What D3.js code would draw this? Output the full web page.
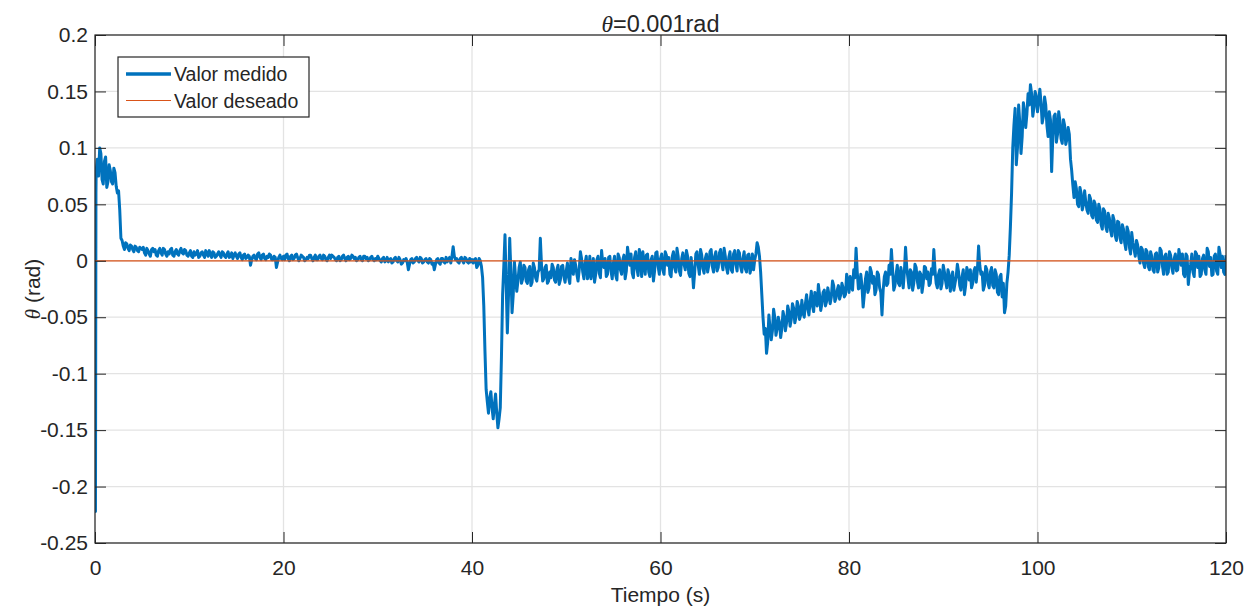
<!DOCTYPE html>
<html>
<head>
<meta charset="utf-8">
<script src="https://cdnjs.cloudflare.com/ajax/libs/d3/7.8.5/d3.min.js"></script>
<style>
  body { margin: 0; background: #fff; }
  svg text { font-family: "Liberation Sans", Arial, sans-serif; fill: #262626; }
</style>
</head>
<body>
<svg id="chart" width="1255" height="615"></svg>
<script>
// first instants of the record (fast transient at t = 0)
var startTimes = [0, 0.05, 0.1];
var startValues = [0, -0.222, 0.06];

// theta measured (rad), one sample every 0.25 s from t = 0.25 to t = 120
var dt = 0.25;
var measured = [
  .09,.1,.072,.088,.065,.085,.07,.082,.066,.062,.02,.013,.016,.011,.014,.01,.013,.009,.012,.01,
  .007,.011,.006,.01,.008,.005,.009,.007,.011,.006,.008,.01,.005,.008,.006,.009,.007,.01,.005,.007,
  .004,.008,.006,.003,.007,.005,.009,.004,.006,.008,.003,.006,.005,.008,.004,.006,.003,.007,.005,.004,
  .006,.003,.005,.002,.005,-.004,.004,.002,.006,.003,.005,.002,.004,.006,.001,.004,-.006,.003,.002,.004,
  .005,.002,.004,.001,.005,.003,.002,.004,0,.003,.005,.002,.003,.001,.004,.002,.005,.001,.003,.002,
  .004,.001,.003,0,.004,.002,.003,.001,.005,.002,0,.003,.001,.004,.002,0,.003,.001,.002,.004,
  0,.002,-.001,.003,.001,-.002,.002,0,.003,-.003,.001,.002,-.008,.001,-.002,.002,0,.003,-.002,.001,
  -.001,.002,-.003,-.008,.001,-.002,.002,-.001,.003,.001,-.002,.0125,.001,-.001,.002,0,.003,-.001,.002,.001,
  .001,-.006,.002,-.005,-.04,-.114,-.135,-.116,-.14,-.118,-.148,-.13,-.03,.023,-.064,.02,-.046,-.001,-.027,-.006,
  -.02,-.004,-.018,-.008,-.022,-.002,-.015,-.01,.02,-.018,-.006,-.02,-.01,-.003,-.017,-.008,-.021,-.005,-.014,-.009,
  -.015,.002,-.012,-.004,-.018,.008,-.01,-.002,-.016,.004,-.008,-.019,.001,-.011,.009,-.006,-.014,.003,-.009,-.002,
  -.013,.006,-.008,.001,-.016,.012,-.004,-.011,.003,-.007,.01,-.014,-.002,.005,-.01,.001,-.018,.007,-.005,.002,
  -.008,.008,-.004,-.012,.004,-.006,.011,-.009,.002,-.003,.009,-.011,.003,-.024,.006,-.004,.01,-.007,.002,-.01,
  .008,-.005,.004,-.009,.007,-.002,.011,-.006,.003,-.008,.006,-.003,.009,-.005,.002,-.007,.005,-.011,.006,.001,
  .016,.004,-.03,-.065,-.082,-.048,-.07,-.043,-.066,-.05,-.068,-.045,-.062,-.04,-.058,-.038,-.055,-.036,-.052,-.035,
  -.05,-.03,-.048,-.027,-.045,-.033,-.021,-.044,-.028,-.04,-.024,-.038,-.018,-.036,-.026,-.034,-.02,-.032,-.012,-.028,
  -.022,-.008,.011,-.025,-.012,-.041,-.016,-.028,-.006,-.02,-.03,-.01,-.024,-.048,-.014,-.022,-.004,.01,-.026,-.012,
  -.02,-.006,-.024,.012,-.015,-.008,-.026,-.003,-.018,-.01,-.028,-.005,-.016,-.022,-.007,.01,-.02,-.012,-.025,-.004,
  -.018,-.008,-.027,-.01,-.02,-.003,-.022,-.014,-.03,-.006,-.017,-.024,-.009,-.019,.013,-.012,-.026,-.005,-.02,-.01,
  -.022,-.008,-.028,-.014,-.032,-.046,-.02,.005,.06,.12,.085,.138,.095,.14,.118,.148,.156,.128,.15,.132,
  .152,.122,.145,.12,.132,.079,.128,.105,.132,.108,.125,.103,.118,.09,.067,.07,.05,.065,.045,.062,
  .045,.058,.04,.053,.036,.05,.032,.046,.03,.042,.027,.04,.022,.035,.02,.032,.016,.03,.012,.025,
  .01,.018,.004,.012,-.002,.01,-.005,.008,-.008,.006,-.01,.011,-.004,.004,-.012,.008,-.006,.002,-.009,.01,
  -.004,-.012,.006,-.021,-.003,-.01,.008,-.006,-.014,.002,-.008,.011,-.005,-.013,.004,-.009,.012,-.006,-.01,.005
];

// samples read half way between the ones above (t = 0.125, 0.375, ... 119.875)
var measuredMid = [
  .08,.075,.095,.068,.092,.07,.08,.068,.078,.06,.045,.018,.01,.015,.009,.013,.008,.012,.008,.011,
  .012,.005,.009,.004,.011,.01,.004,.011,.005,.01,.004,.006,.011,.004,.01,.005,.011,.006,.009,.004,
  .009,.003,.005,.009,.004,.008,.003,.007,.009,.003,.007,.004,.008,.003,.007,.003,.008,.004,.002,.007,
  .002,.007,.001,.006,.003,.004,.001,.005,.001,.007,.001,.006,.001,.003,.005,.001,.003,-.001,.005,.001,
  .001,.006,0,.005,.002,.006,0,.005,.003,.001,.002,.005,0,.005,.001,.005,.001,.004,0,.005,
  .005,.003,0,.004,.001,.005,0,.004,.002,.004,.003,.001,.004,0,.004,.003,.001,.004,0,.001,
  .002,-.001,.003,0,-.001,.002,-.001,.003,-.001,.001,-.002,0,-.001,-.003,.002,-.001,.003,-.001,.002,-.001,
  .002,-.002,.001,-.002,-.003,.002,-.003,.002,-.002,-.001,.003,.004,.004,.002,-.002,.003,-.002,.002,-.002,-.001,
  -.002,.002,-.004,0,-.015,-.08,-.125,-.122,-.13,-.128,-.135,-.14,-.085,-.005,-.02,-.03,-.01,-.03,-.015,-.018,
  -.001,-.016,-.006,-.02,-.005,-.019,-.006,-.018,-.008,-.004,-.016,-.004,-.018,-.015,-.006,-.019,-.004,-.017,-.004,-.019,
  -.002,-.02,-.004,.001,-.012,-.008,.002,-.016,.004,-.012,-.016,.002,-.012,.004,-.015,-.002,.002,-.012,.004,-.016,
  .004,-.017,.003,-.012,.005,-.009,.004,.006,-.015,.008,-.013,.004,.008,-.012,.006,-.014,.004,-.009,.008,-.012,
  .006,-.012,.005,.003,-.014,.008,-.01,.004,-.013,.007,-.008,.004,-.014,-.008,-.01,.008,-.012,.005,-.011,.006,
  -.004,.01,-.01,.008,-.006,.01,-.008,.004,-.011,.008,-.01,.009,-.009,.007,-.01,.008,-.01,.006,-.006,-.008,
  .006,.012,-.01,-.05,-.06,-.072,-.06,-.062,-.05,-.06,-.055,-.06,-.05,-.055,-.045,-.052,-.042,-.05,-.04,-.048,
  -.046,-.038,-.042,-.036,-.04,-.028,-.04,-.03,-.038,-.026,-.036,-.03,-.032,-.022,-.033,-.022,-.03,-.024,-.03,-.018,
  -.014,-.026,-.015,-.01,-.024,-.022,-.03,-.01,-.024,-.01,-.014,-.026,-.012,-.028,-.026,-.01,-.02,-.012,-.008,-.022,
  -.004,-.022,-.012,-.01,-.006,-.024,-.01,-.02,-.006,-.024,-.012,-.02,-.006,-.01,-.02,-.012,-.008,-.024,-.008,-.02,
  -.01,-.024,-.012,-.018,-.026,-.014,-.01,-.026,-.008,-.022,-.01,-.008,-.02,-.006,-.008,-.004,-.01,-.022,-.008,-.024,
  -.006,-.024,-.012,-.03,-.012,-.02,-.04,-.01,.03,.1,.135,.1,.122,.11,.132,.13,.138,.148,.136,.145,
  .142,.14,.128,.138,.11,.125,.11,.13,.112,.124,.104,.12,.108,.112,.08,.056,.064,.048,.06,.05,
  .052,.042,.055,.038,.05,.034,.046,.028,.044,.026,.038,.022,.036,.018,.034,.016,.028,.01,.026,.006,
  .016,.004,.014,-.002,.01,-.006,.008,-.008,.004,-.01,.007,-.006,.009,-.012,.006,-.01,.005,-.011,.006,-.008,
  .004,.006,-.014,.004,-.01,.006,-.014,.006,.004,-.012,.005,-.012,.008,.003,-.012,.006,-.012,.006,.004,-.012
];

// desired value (rad)
var desiredTimes = [0, 120];
var desiredValues = [0, 0];

var xTicks = [0, 20, 40, 60, 80, 100, 120];
var yTicks = [-0.25, -0.2, -0.15, -0.1, -0.05, 0, 0.05, 0.1, 0.15, 0.2];
var yTickLabels = ['-0.25', '-0.2', '-0.15', '-0.1', '-0.05', '0', '0.05', '0.1', '0.15', '0.2'];
var seriesNames = ['Valor medido', 'Valor deseado'];
var colors = ['#0072BD', '#D95319'];

var margin = {top: 35, right: 29, bottom: 72, left: 95};
var W = 1255, H = 615;
var w = W - margin.left - margin.right;
var h = H - margin.top - margin.bottom;

var svg = d3.select('#chart');
var g = svg.append('g').attr('transform', 'translate(' + margin.left + ',' + margin.top + ')');

var x = d3.scaleLinear().domain([0, 120]).range([0, w]);
var y = d3.scaleLinear().domain([-0.25, 0.2]).range([h, 0]);

// grid
g.append('g').selectAll('line').data(xTicks).enter().append('line')
  .attr('x1', function(d) { return x(d); }).attr('x2', function(d) { return x(d); })
  .attr('y1', 0).attr('y2', h)
  .attr('stroke', '#e3e3e3').attr('stroke-width', 1.3);
g.append('g').selectAll('line').data(yTicks).enter().append('line')
  .attr('y1', function(d) { return y(d); }).attr('y2', function(d) { return y(d); })
  .attr('x1', 0).attr('x2', w)
  .attr('stroke', '#e3e3e3').attr('stroke-width', 1.3);

g.append('clipPath').attr('id', 'clip').append('rect').attr('width', w).attr('height', h);

var pts = [];
startTimes.forEach(function(t, i) { pts.push([t, startValues[i]]); });
measured.forEach(function(v, i) {
  pts.push([(i + 0.5) * dt, measuredMid[i]]);
  pts.push([(i + 1) * dt, v]);
});

var line = d3.line().x(function(d) { return x(d[0]); }).y(function(d) { return y(d[1]); });

var plot = g.append('g').attr('clip-path', 'url(#clip)');
plot.append('path').datum(pts).attr('d', line)
  .attr('fill', 'none').attr('stroke', colors[0]).attr('stroke-width', 3)
  .attr('stroke-linejoin', 'round');
plot.append('path').datum(desiredTimes.map(function(t, i) { return [t, desiredValues[i]]; }))
  .attr('d', line).attr('fill', 'none').attr('stroke', colors[1]).attr('stroke-width', 1.2);

// axes, ticks pointing inward like matlab
var fmt = function(d) { return yTickLabels[yTicks.indexOf(d)]; };
g.append('g').attr('transform', 'translate(0,' + h + ')')
  .call(d3.axisBottom(x).tickValues(xTicks).tickSizeInner(-11).tickSizeOuter(0).tickPadding(17));
g.append('g')
  .call(d3.axisLeft(y).tickValues(yTicks).tickFormat(fmt).tickSizeInner(-11).tickSizeOuter(0).tickPadding(7));
g.append('g').call(d3.axisTop(x).tickValues(xTicks).tickSizeInner(-11).tickSizeOuter(0).tickFormat(''));
g.append('g').attr('transform', 'translate(' + w + ',0)')
  .call(d3.axisRight(y).tickValues(yTicks).tickSizeInner(-11).tickSizeOuter(0).tickFormat(''));
g.selectAll('.domain').remove();
g.selectAll('.tick line').attr('stroke', '#262626').attr('stroke-width', 1);
g.selectAll('.tick text').attr('font-size', 21).style('font-family', '"Liberation Sans", Arial, sans-serif').attr('fill', '#262626');

g.append('rect').attr('width', w).attr('height', h)
  .attr('fill', 'none').attr('stroke', '#262626').attr('stroke-width', 1.2);

// labels
var title = svg.append('text').attr('x', margin.left + w / 2).attr('y', 32)
  .attr('text-anchor', 'middle').attr('font-size', 23.5);
title.append('tspan').attr('font-family', '"Liberation Serif", "DejaVu Serif", serif').attr('font-style', 'italic').text('θ');
title.append('tspan').text('=0.001rad');

svg.append('text').attr('x', margin.left + w / 2).attr('y', 602)
  .attr('text-anchor', 'middle').attr('font-size', 21).text('Tiempo (s)');

var yl = svg.append('text').attr('transform', 'translate(40,' + (margin.top + h / 2) + ') rotate(-90)')
  .attr('text-anchor', 'middle').attr('font-size', 21);
yl.append('tspan').attr('font-family', '"Liberation Serif", "DejaVu Serif", serif').attr('font-style', 'italic').text('θ');
yl.append('tspan').text(' (rad)');

// legend
var lg = svg.append('g').attr('transform', 'translate(118,57)');
lg.append('rect').attr('width', 191).attr('height', 60)
  .attr('fill', '#fff').attr('stroke', '#262626').attr('stroke-width', 1.2);
seriesNames.forEach(function(name, i) {
  var yy = 17 + i * 26.5;
  lg.append('line').attr('x1', 8).attr('x2', 53).attr('y1', yy).attr('y2', yy)
    .attr('stroke', colors[i]).attr('stroke-width', i === 0 ? 3.5 : 1.2);
  lg.append('text').attr('x', 56).attr('y', yy + 7).attr('font-size', 19.5).text(name);
});
</script>
</body>
</html>
